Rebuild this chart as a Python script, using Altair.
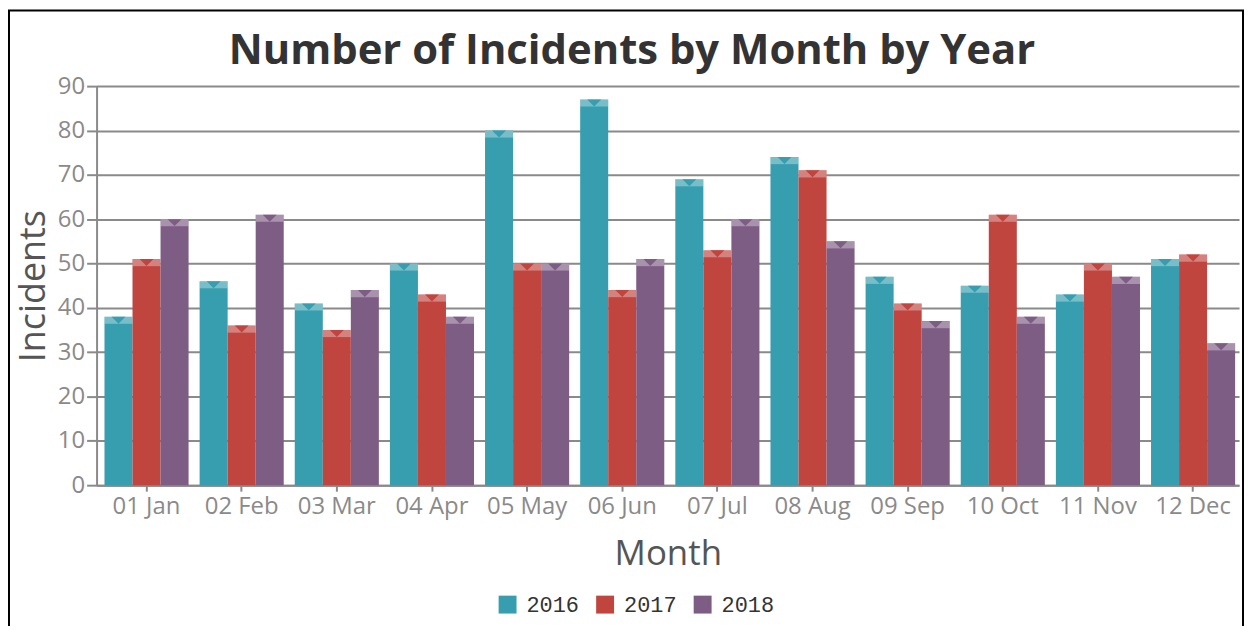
import altair as alt
import pandas as pd

months = ["01 Jan", "02 Feb", "03 Mar", "04 Apr", "05 May", "06 Jun",
          "07 Jul", "08 Aug", "09 Sep", "10 Oct", "11 Nov", "12 Dec"]
years = ["2016", "2017", "2018"]
y2016 = [38, 46, 41, 50, 80, 87, 69, 74, 47, 45, 43, 51]
y2017 = [51, 36, 35, 43, 50, 44, 53, 71, 41, 61, 50, 52]
y2018 = [60, 61, 44, 38, 50, 51, 60, 55, 37, 38, 47, 32]
colors = ["#379eaf", "#c1453f", "#7e5d85"]

rows = []
for yr, vals in zip(years, [y2016, y2017, y2018]):
    for m, v in zip(months, vals):
        rows.append({"Month": m, "Year": yr, "Incidents": v})
df = pd.DataFrame(rows)

W, H = 1148, 401
GRAY = "#8a8a8a"

x_enc = alt.X("Month:N", sort=months, title="Month",
              scale=alt.Scale(paddingInner=0.116, paddingOuter=0.062, align=0.67),
              axis=alt.Axis(labelAngle=0, labelFontSize=24, labelColor=GRAY,
                            labelFont="Open Sans", titleFont="Open Sans",
                            titleFontSize=35, titleColor="#555555",
                            titleFontWeight="normal", titlePadding=19,
                            tickSize=6, tickColor=GRAY, tickWidth=2,
                            labelPadding=3, domainColor=GRAY, domainWidth=2,
                            grid=False))
xo_enc = alt.XOffset("Year:N", sort=years, scale=alt.Scale(paddingInner=0, paddingOuter=0))
y_enc = alt.Y("Incidents:Q", title="Incidents",
              scale=alt.Scale(domain=[0, 90], nice=False),
              axis=alt.Axis(values=list(range(0, 91, 10)), labelFontSize=24,
                            labelColor=GRAY, labelFont="Open Sans",
                            titleFont="Open Sans", titleFontSize=36,
                            titleColor="#555555", titleFontWeight="normal",
                            titlePadding=5, tickSize=10, tickColor=GRAY,
                            tickWidth=2, labelPadding=2, domainColor=GRAY,
                            domainWidth=2, gridColor=GRAY, gridWidth=2))
color_scale = alt.Scale(domain=years, range=colors)

base = alt.Chart(df)

bars = base.mark_bar().encode(
    x=x_enc, xOffset=xo_enc, y=y_enc,
    color=alt.Color("Year:N", scale=color_scale,
                    legend=alt.Legend(title=None, orient="none", direction="horizontal",
                                      legendX=402, legendY=510, symbolType="square",
                                      symbolSize=324, symbolStrokeWidth=0,
                                      labelFont="Liberation Mono", labelFontSize=22,
                                      labelColor="#333333", labelOffset=8,
                                      columnPadding=15, padding=0)),
)

shine = base.transform_calculate(
    top2="datum.Incidents - 1.6"
).mark_bar(color="white", opacity=0.33).encode(
    x=alt.X("Month:N", sort=months), xOffset=alt.XOffset("Year:N", sort=years),
    y="Incidents:Q", y2="top2:Q",
)

notch = base.mark_point(shape="M-1,0L1,0L0,1Z", filled=True, opacity=1,
                        size=196, strokeWidth=0).encode(
    x=alt.X("Month:N", sort=months), xOffset=alt.XOffset("Year:N", sort=years),
    y="Incidents:Q",
    color=alt.Color("Year:N", scale=color_scale, legend=None),
)

frame = alt.Chart(pd.DataFrame({"a": [0]})).mark_rect(
    fill=None, stroke="black", strokeWidth=2).encode(
    x=alt.value(-88), x2=alt.value(W + 4), y=alt.value(-76), y2=alt.value(H + 200))

chart = alt.layer(bars, shine, notch, frame).properties(
    width=W, height=H,
    autosize=alt.AutoSizeParams(type="none"),
    padding={"left": 89, "top": 77, "right": 5, "bottom": 140},
    title=alt.TitleParams("Number of Incidents by Month by Year", fontSize=42,
                          font="Open Sans", fontWeight="bold", color="#333333",
                          anchor="middle", dx=-36, offset=-64),
).configure_view(stroke=None).configure_axisX(grid=False)

chart.save("out.html", embed_options={"renderer": "svg", "actions": False})
